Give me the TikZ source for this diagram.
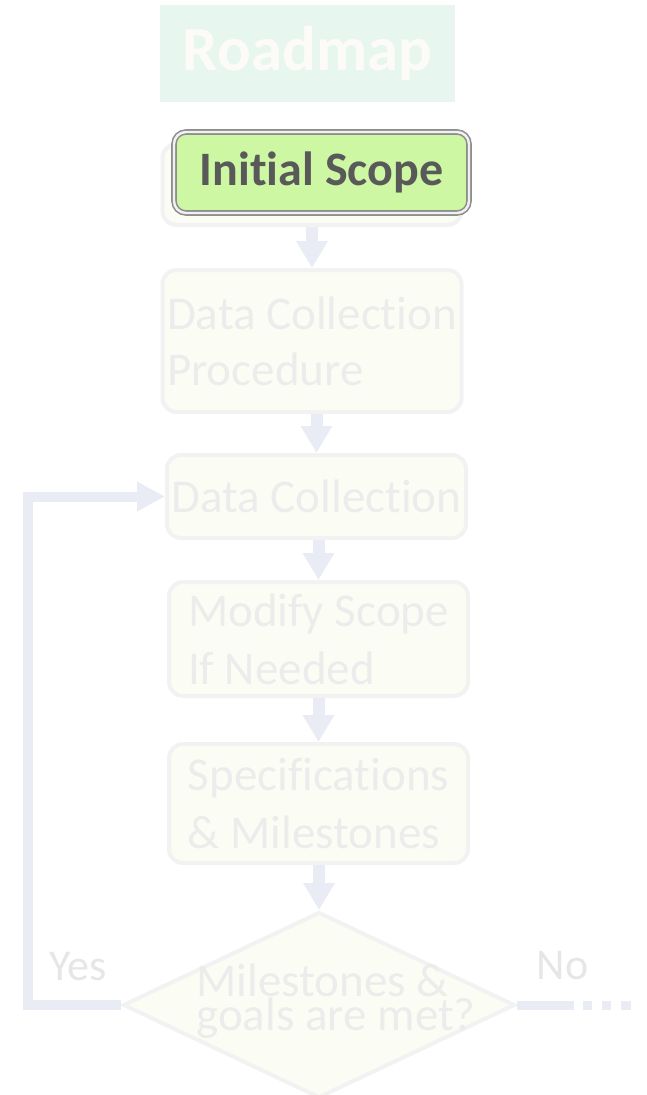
\documentclass[tikz,border=0pt]{standalone}
\usepackage{fontspec}
\setmainfont{Carlito}[Ligatures=NoCommon]
\usetikzlibrary{positioning, shapes.geometric, arrows.meta}

\definecolor{headfill}{HTML}{E7F6EF}
\definecolor{headtext}{HTML}{FCFBF7}
\definecolor{hifill}{HTML}{CDF7A2}
\definecolor{hiline}{HTML}{8E8E8E}
\definecolor{hitext}{HTML}{595959}
\definecolor{fadefill}{HTML}{FBFDF4}
\definecolor{fadeline}{HTML}{F2F2F2}
\definecolor{fadetext}{HTML}{ECECEC}
\definecolor{flowcol}{HTML}{E9ECF5}
\definecolor{yesnocol}{HTML}{E6E6E6}

\tikzset{
  faded/.style={draw=fadeline, fill=fadefill, line width=4pt, rounded corners=14pt,
    text=fadetext, font=\fontsize{47pt}{56pt}\selectfont, align=left,
    minimum width=299pt, inner sep=0pt},
  headbox/.style={fill=headfill, text=headtext, font=\bfseries\fontsize{63pt}{70pt}\selectfont,
    minimum width=295pt, minimum height=97pt, inner sep=0pt},
  hibox/.style={draw=hiline, double=white!88!hiline, double distance=2.4pt, line width=1.6pt,
    fill=hifill, rounded corners=12pt, text=hitext, font=\bfseries\fontsize{48pt}{56pt}\selectfont,
    minimum width=295pt, minimum height=81pt, inner sep=0pt},
  decision/.style={diamond, draw=fadeline, fill=fadefill, line width=4pt,
    minimum width=392pt, minimum height=186pt, inner sep=0pt},
  flow/.style={draw=flowcol, line width=12pt, -{Triangle[width=30pt,length=27pt]}},
  loopflow/.style={draw=flowcol, line width=10pt, line join=miter,
    -{Triangle[width=28pt,length=28pt]}},
  nodash/.style={draw=flowcol, line width=9pt,
    dash pattern=on 57pt off 9pt on 9pt off 10pt on 9pt off 10pt on 10pt},
  yesno/.style={text=yesnocol, font=\fontsize{44pt}{50pt}\selectfont, inner sep=0pt}
}

\begin{document}
\begin{tikzpicture}[x=1pt,y=-1pt,on grid]
  \useasboundingbox (0,0) rectangle (646,1095);

  % steps
  \node[faded, minimum height=81pt] (scope) at (312,184.5) {Initial Scope};
  \node[headbox, above=131pt of scope, xshift=-4.5pt] (head) {Roadmap};
  \node[hibox] (hi) at ([shift={(9.5,-12)}]scope.center) {Initial Scope};
  \node[faded, minimum height=142pt, below=156.5pt of scope] (b2) {Data Collection\\Procedure};
  \node[faded, minimum height=83pt, below=155.5pt of b2, xshift=4.5pt] (b3) {Data Collection};
  \node[faded, minimum height=114pt, below=142.5pt of b3, xshift=2pt,
        font=\fontsize{47pt}{58pt}\selectfont] (b4) {Modify Scope\\If Needed};
  \node[faded, minimum height=119pt, below=164.5pt of b4,
        font=\fontsize{47pt}{58pt}\selectfont] (b5) {Specifications\\\& Milestones};
  \node[decision, below=201.5pt of b5, xshift=0.5pt] (dec) {};
  \node[text=fadetext, font=\fontsize{47pt}{34pt}\selectfont, align=left, inner sep=0pt]
        (dectext) at ([shift={(17,-4)}]dec.center) {Milestones \&\\goals are met?};

  % connectors
  \foreach \a/\b in {scope/b2, b2/b3, b3/b4, b4/b5, b5/dec}
    \draw[flow] (\a.south -| \b.north) -- (\b.north);
  \draw[loopflow] (dec.west) -- ++(-93,0) |- (b3.west);
  \draw[nodash] (dec.east) -- ++(114,0) coordinate (noend);

  \node[yesno, anchor=base] (yes) at ([shift={(-43,-25)}]dec.west) {Yes};
  \node[yesno, anchor=base] (no) at ([shift={(45.5,-26)}]dec.east) {No};
\end{tikzpicture}
\end{document}
